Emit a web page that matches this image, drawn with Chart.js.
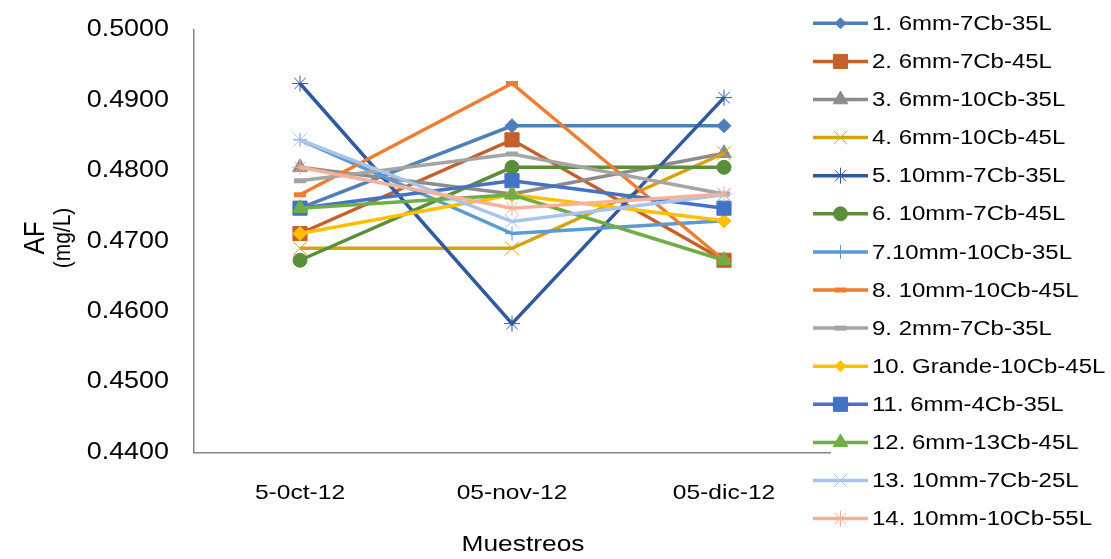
<!DOCTYPE html>
<html>
<head>
<meta charset="utf-8">
<script src="https://cdn.jsdelivr.net/npm/chart.js@4/dist/chart.umd.min.js"></script>
<style>
  html, body { margin: 0; padding: 0; background: #fff; }
  #wrap { width: 1111px; height: 559px; position: relative; }
</style>
</head>
<body>
<div id="wrap"><canvas id="c" width="1111" height="559"></canvas></div>
<script>
// Sampling dates
const categories = ['5-0ct-12', '05-nov-12', '05-dic-12'];

// Series names
const seriesNames = [
  '1. 6mm-7Cb-35L', '2. 6mm-7Cb-45L', '3. 6mm-10Cb-35L', '4. 6mm-10Cb-45L',
  '5. 10mm-7Cb-35L', '6. 10mm-7Cb-45L', '7.10mm-10Cb-35L', '8. 10mm-10Cb-45L',
  '9. 2mm-7Cb-35L', '10. Grande-10Cb-45L', '11. 6mm-4Cb-35L', '12. 6mm-13Cb-45L',
  '13. 10mm-7Cb-25L', '14. 10mm-10Cb-55L'
];

// AF (mg/L) per sampling date
const s1  = [0.4747, 0.4864, 0.4864];
const s2  = [0.4711, 0.4844, 0.4673];
const s3  = [0.4805, 0.4767, 0.4825];
const s4  = [0.4690, 0.4690, 0.4825];
const s5  = [0.4924, 0.4583, 0.4904];
const s6  = [0.4673, 0.4805, 0.4805];
const s7  = [0.4844, 0.4711, 0.4729];
const s8  = [0.4766, 0.4924, 0.4673];
const s9  = [0.4786, 0.4824, 0.4767];
const s10 = [0.4711, 0.4766, 0.4729];
const s11 = [0.4747, 0.4786, 0.4747];
const s12 = [0.4747, 0.4766, 0.4673];
const s13 = [0.4844, 0.4728, 0.4766];
const s14 = [0.4805, 0.4747, 0.4767];
const seriesValues = [s1, s2, s3, s4, s5, s6, s7, s8, s9, s10, s11, s12, s13, s14];

// Value axis range
const yMin = 0.44;
const yMax = 0.50;
const yStep = 0.01;

// Series styles
const colors = [
  '#4E80B8', '#C4612B', '#8C8C8C', '#D4A30F', '#3059A0', '#5A8E3A', '#5B9BD5',
  '#ED7D31', '#A5A5A5', '#FFC000', '#4472C4', '#70AD47', '#A9C4E8', '#F4B29B'
];
// [point style, radius, border width, legend radius]
const markers = [
  ['rectRot', 7, 1, 5.5], ['rect', 10, 1, 10], ['triangle', 8.5, 1, 8.5], ['crossRot', 10, 1, 9.5],
  ['star', 8, 1, 8], ['circle', 7, 1, 7], ['cross', 7, 1, 7], ['line', 6, 5, 6],
  ['line', 6, 5, 6], ['rectRot', 7, 1, 5.5], ['rect', 10, 1, 10], ['triangle', 8.5, 1, 8.5],
  ['crossRot', 10, 1, 9.5], ['star', 8, 1, 8]
];

const FONT = '"Liberation Sans", Arial, Helvetica, sans-serif';
const SX = 1.17;   // horizontal text stretch

const datasets = seriesValues.map((vals, i) => ({
  label: seriesNames[i],
  data: vals,
  borderColor: colors[i],
  backgroundColor: colors[i],
  borderWidth: 3.5,
  pointStyle: markers[i][0],
  pointRadius: markers[i][1],
  pointHoverRadius: markers[i][1],
  pointBorderWidth: markers[i][2],
  pointBackgroundColor: colors[i],
  pointBorderColor: colors[i],
  tension: 0,
  fill: false,
  order: seriesValues.length - i
}));

function stretchedText(ctx, text, x, y, align, size, rotate) {
  ctx.save();
  ctx.translate(x, y);
  ctx.scale(SX, 1);
  if (rotate) ctx.rotate(-Math.PI / 2);
  ctx.font = size + 'px ' + FONT;
  ctx.textAlign = align;
  ctx.textBaseline = 'middle';
  ctx.fillStyle = '#000';
  ctx.fillText(text, 0, 0);
  ctx.restore();
}

// Tick labels, axis titles and the line+marker legend on the right
const decorations = {
  id: 'decorations',
  afterDraw(chart) {
    const ctx = chart.ctx;
    const xs = chart.scales.x, ys = chart.scales.y;
    ctx.save();

    // value axis labels
    ys.ticks.forEach((t, i) => {
      stretchedText(ctx, Number(t.value).toFixed(4), ys.right - 25, ys.getPixelForTick(i), 'right', 23);
    });
    // category labels
    xs.ticks.forEach((t, i) => {
      stretchedText(ctx, xs.getLabelForValue(t.value), xs.getPixelForTick(i), 493, 'center', 21);
    });

    // axis titles
    stretchedText(ctx, 'Muestreos', 523, 545, 'center', 22.5);
    stretchedText(ctx, 'AF', 36, 238, 'center', 26, true);
    stretchedText(ctx, '(mg/L)', 63, 238, 'center', 21, true);

    // legend
    const lx0 = 813, lx1 = 868, tx = 872, y0 = 23.3, dy = 38.1;
    const helpers = Chart.helpers;
    chart.data.datasets.forEach((ds, i) => {
      const y = y0 + i * dy;
      ctx.strokeStyle = ds.borderColor;
      ctx.lineWidth = 3.5;
      ctx.lineCap = 'butt';
      ctx.beginPath();
      ctx.moveTo(lx0, y);
      ctx.lineTo(lx1, y);
      ctx.stroke();
      if (markers[i][0] && helpers && helpers.drawPoint) {
        ctx.fillStyle = ds.backgroundColor;
        ctx.strokeStyle = ds.borderColor;
        ctx.lineWidth = markers[i][2];
        helpers.drawPoint(ctx, {
          pointStyle: markers[i][0],
          radius: markers[i][3],
          borderWidth: markers[i][2],
          rotation: 0
        }, (lx0 + lx1) / 2, y);
      }
      stretchedText(ctx, ds.label, tx, y + 1, 'left', 20.5);
    });
    ctx.restore();
  }
};

new Chart(document.getElementById('c'), {
  type: 'line',
  data: { labels: categories, datasets },
  options: {
    responsive: false,
    animation: false,
    devicePixelRatio: 1,
    layout: { padding: { left: 0, right: 281, top: 30, bottom: 0 } },
    plugins: {
      legend: { display: false },
      tooltip: { enabled: false }
    },
    scales: {
      x: {
        type: 'category',
        offset: true,
        grid: { display: false, drawTicks: false, offset: true },
        border: { display: true, color: '#868686', width: 1.5 },
        ticks: { display: false },
        afterFit(scale) { scale.height = 559 - 452.5; }
      },
      y: {
        min: yMin,
        max: yMax,
        grid: { display: false, drawTicks: false },
        border: { display: true, color: '#868686', width: 1.5 },
        ticks: { display: false, stepSize: yStep },
        afterFit(scale) { scale.width = 194; }
      }
    }
  },
  plugins: [decorations]
});
</script>
</body>
</html>
